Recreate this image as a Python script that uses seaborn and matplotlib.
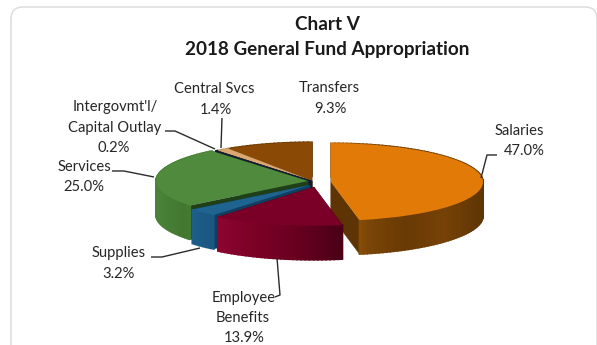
import numpy as np
import matplotlib
matplotlib.use("Agg")
import matplotlib.pyplot as plt
import seaborn as sns
from matplotlib.colors import LinearSegmentedColormap
from matplotlib.patches import FancyBboxPatch, Polygon

sns.set_theme(style="white")
plt.rcParams["font.family"] = ["Lato", "DejaVu Sans"]

# General fund appropriation shares, percent
categories = ["Salaries", "Employee\nBenefits", "Supplies", "Services",
              "Intergovmt'l/\nCapital Outlay", "Central Svcs", "Transfers"]
shares = [47.0, 13.9, 3.2, 25.0, 0.2, 1.4, 9.3]

top_colors = ["#E27A08", "#7B0027", "#1F6491", "#4F8A3D", "#16243F", "#DBA96F", "#8A4A05"]
wall_ramps = [["#B86C0E", "#7A4507", "#693A05", "#764206", "#5F3504"],
              ["#8C0530", "#7A0026", "#660020", "#4A0017"],
              ["#1D5F8B", "#1A5680"],
              ["#4B8439", "#42772F", "#4B8439"],
              ["#101A30", "#101A30"],
              ["#B98B55", "#B98B55"],
              ["#6B3A04", "#6B3A04"]]
face_colors = ["#5E3404", "#4A0017", "#123F60", "#1F3F18", "#101A30", "#8F6A3C", "#4E2A03"]

# Per-slice pull-out from the pie centre, in pixels (right, down)
slice_shift = [(19, 1), (2, 6), (-2, 4), (-4, 0), (0, 0), (0, 0), (0, 0)]
paint_order = [6, 5, 4, 3, 2, 0, 1]

W, H = 597, 345
SQUASH = 0.255
DEPTH = 34
CX, CY, R = 312, 181, 152

fig = plt.figure(figsize=(W / 100, H / 100), dpi=100, facecolor="white")

# Pixel-space layer for the frame, text and leader lines
over = fig.add_axes([0, 0, 1, 1], zorder=2, facecolor="none")
over.set_xlim(0, W)
over.set_ylim(H, 0)
over.axis("off")

ax = fig.add_axes([0, 0, 1, 1], zorder=1)
wedges, _ = ax.pie(shares, colors=sns.color_palette(top_colors), startangle=90,
                   counterclock=False, radius=R,
                   center=(CX, (H - CY) / SQUASH), frame=True,
                   wedgeprops={"linewidth": 0})
ax.set_aspect("auto")
ax.set_xlim(0, W)
ax.set_ylim(0, H / SQUASH)
ax.axis("off")

depth = DEPTH / SQUASH
for z, i in enumerate(paint_order):
    w = wedges[i]
    dx, dy = slice_shift[i]
    cx, cy = w.center[0] + dx, w.center[1] - dy / SQUASH
    w.set_center((cx, cy))
    w.set_zorder(10 + 2 * z + 1)

    th = np.radians(np.linspace(w.theta1, w.theta2, max(3, int(abs(w.theta2 - w.theta1) / 1.5))))
    xs = cx + R * np.cos(th)
    ys = cy + R * np.sin(th)
    ramp = LinearSegmentedColormap.from_list("wall", wall_ramps[i])
    lo, hi = xs.min(), xs.max()

    # Cut faces along the two radial edges
    for ex, ey in ((xs[0], ys[0]), (xs[-1], ys[-1])):
        ax.add_patch(Polygon([(cx, cy), (ex, ey), (ex, ey - depth), (cx, cy - depth)],
                             closed=True, fc=face_colors[i], ec=face_colors[i], lw=0.3,
                             zorder=10 + 2 * z))
    # Outer rim, shaded left to right
    for a in range(len(th) - 1):
        t = (0.5 * (xs[a] + xs[a + 1]) - lo) / max(hi - lo, 1e-6)
        c = ramp(t)
        ax.add_patch(Polygon([(xs[a], ys[a]), (xs[a + 1], ys[a + 1]),
                              (xs[a + 1], ys[a + 1] - depth), (xs[a], ys[a] - depth)],
                             closed=True, fc=c, ec=c, lw=1.2, zorder=10 + 2 * z))

# Rounded chart frame, its lower and right sides running off the canvas
over.add_patch(FancyBboxPatch((23, 19), 562, 350, boxstyle="round,pad=12,rounding_size=12",
                              fc="none", ec="#D9D9D9", lw=1.0, clip_on=True))

TEXT = "#262626"
over.text(327, 24, "Chart V", ha="center", va="center", fontsize=13.6, fontweight="bold", color="#1A1A1A")
over.text(327, 49, "2018 General Fund Appropriation", ha="center", va="center",
          fontsize=13.6, fontweight="bold", color="#1A1A1A")

label_lines = [
    ("Central Svcs", 214.5, 89), ("1.4%", 216, 110),
    ("Transfers", 329, 88), ("9.3%", 330, 109),
    ("Salaries", 519, 131), ("47.0%", 524, 151),
    ("Intergovmt'l/", 115, 107), ("Capital Outlay", 115, 128), ("0.2%", 114, 148),
    ("Services", 84, 167), ("25.0%", 84, 187),
    ("Supplies", 119, 253), ("3.2%", 119, 274),
    ("Employee", 244, 298), ("Benefits", 243, 318), ("13.9%", 244, 338),
]
for s, x, y in label_lines:
    over.text(x, y, s, ha="center", va="center", fontsize=10.6, color=TEXT)

leaders = [
    [(497, 155), (487, 155), (481, 178)],
    [(222, 118), (221, 148)],
    [(165, 131), (175, 131), (215, 149)],
    [(112, 171), (124, 171), (154, 177)],
    [(151, 257), (162, 257), (200, 248)],
    [(277, 258), (280, 295), (275, 297)],
]
for pts in leaders:
    xs, ys = zip(*pts)
    over.plot(xs, ys, color="#2B2B2B", lw=1.0, solid_capstyle="butt")

fig.savefig("out.png", dpi=100, facecolor="white")
